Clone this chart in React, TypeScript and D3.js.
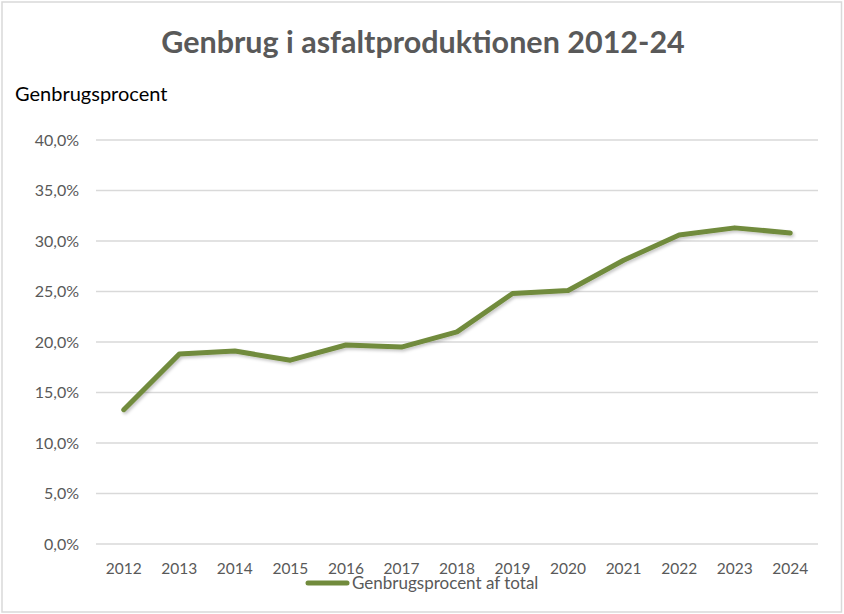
import React, { useEffect, useRef } from "react";
import * as d3 from "d3";

const years = ["2012", "2013", "2014", "2015", "2016", "2017", "2018", "2019", "2020", "2021", "2022", "2023", "2024"];
const recyclingPct = [13.3, 18.8, 19.1, 18.2, 19.7, 19.5, 21.0, 24.8, 25.1, 28.1, 30.6, 31.3, 30.8];
const yTicks = [0, 5, 10, 15, 20, 25, 30, 35, 40];

const TITLE = "Genbrug i asfaltproduktionen 2012-24";
const Y_LABEL = "Genbrugsprocent";
const SERIES_NAME = "Genbrugsprocent af total";

const FONT = "Lato, 'Open Sans', sans-serif";
const LINE_COLOR = "#718b3c";
const TEXT_COLOR = "#595959";

const ChartRecycling = () => {
  const svgRef = useRef<SVGSVGElement | null>(null);

  useEffect(() => {
    const svg = d3.select(svgRef.current);
    const width = 844;
    const height = 614;
    svg.selectAll("*").remove();

    const x = d3.scalePoint().domain(years).range([96, 818]).padding(0.5);
    const y = d3.scaleLinear().domain([0, 40]).range([544, 140]);

    // drop shadow like excel
    const defs = svg.append("defs");
    defs
      .append("filter")
      .attr("id", "shadow")
      .attr("x", "-5%")
      .attr("y", "-20%")
      .attr("width", "110%")
      .attr("height", "140%")
      .append("feDropShadow")
      .attr("dx", 1.5)
      .attr("dy", 2)
      .attr("stdDeviation", 1.5)
      .attr("flood-color", "#000")
      .attr("flood-opacity", 0.22);

    svg.append("rect").attr("width", width).attr("height", height).attr("fill", "#fff");
    svg
      .append("rect")
      .attr("x", 2)
      .attr("y", 2)
      .attr("width", 839.5)
      .attr("height", 610)
      .attr("fill", "none")
      .attr("stroke", "#d9d9d9")
      .attr("stroke-width", 1.5);

    svg
      .append("text")
      .attr("x", 423)
      .attr("y", 53)
      .attr("text-anchor", "middle")
      .attr("font-family", FONT)
      .attr("font-weight", "bold")
      .attr("font-size", 30.5)
      .attr("fill", TEXT_COLOR)
      .text(TITLE);

    svg
      .append("text")
      .attr("x", 15)
      .attr("y", 101)
      .attr("font-family", FONT)
      .attr("font-size", 20)
      .attr("fill", "#000")
      .text(Y_LABEL);

    // gridlines + y labels
    const yAxis = svg.append("g");
    yAxis
      .selectAll("line")
      .data(yTicks)
      .enter()
      .append("line")
      .attr("x1", 96)
      .attr("x2", 818)
      .attr("y1", (d) => y(d))
      .attr("y2", (d) => y(d))
      .attr("stroke", "#d9d9d9")
      .attr("stroke-width", 1.5);

    yAxis
      .selectAll("text")
      .data(yTicks)
      .enter()
      .append("text")
      .attr("x", 79)
      .attr("y", (d) => y(d) + 5.5)
      .attr("text-anchor", "end")
      .attr("font-family", FONT)
      .attr("font-size", 16)
      .attr("fill", TEXT_COLOR)
      .text((d) => d.toFixed(1).replace(".", ",") + "%");

    // x labels
    svg
      .append("g")
      .selectAll("text")
      .data(years)
      .enter()
      .append("text")
      .attr("x", (d) => x(d) as number)
      .attr("y", 574)
      .attr("text-anchor", "middle")
      .attr("font-family", FONT)
      .attr("font-size", 15.5)
      .attr("fill", TEXT_COLOR)
      .text((d) => d);

    const line = d3
      .line<number>()
      .x((d, i) => x(years[i]) as number)
      .y((d) => y(d));

    svg
      .append("path")
      .attr("d", line(recyclingPct))
      .attr("fill", "none")
      .attr("stroke", LINE_COLOR)
      .attr("stroke-width", 5)
      .attr("stroke-linejoin", "round")
      .attr("stroke-linecap", "round")
      .attr("filter", "url(#shadow)");

    // legend
    const legend = svg.append("g");
    legend
      .append("line")
      .attr("x1", 308)
      .attr("x2", 347)
      .attr("y1", 583)
      .attr("y2", 583)
      .attr("stroke", LINE_COLOR)
      .attr("stroke-width", 5)
      .attr("stroke-linecap", "round");
    legend
      .append("text")
      .attr("x", 352)
      .attr("y", 589)
      .attr("font-family", FONT)
      .attr("font-size", 17)
      .attr("fill", TEXT_COLOR)
      .text(SERIES_NAME);
  }, []);

  return <svg ref={svgRef} width="844" height="614" style={{ display: "block" }}></svg>;
};

export default function App() {
  return (
    <div style={{ position: "absolute", left: 0, top: 0 }}>
      <ChartRecycling />
    </div>
  );
}
